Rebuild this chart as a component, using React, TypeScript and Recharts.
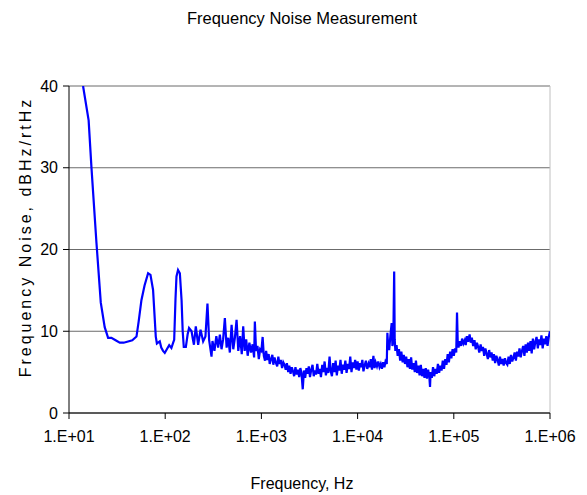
import React from 'react';
import { LineChart, Line, XAxis, YAxis, CartesianGrid, ReferenceLine } from 'recharts';

// [frequency Hz, noise dBHz/rtHz]
const rollOff: [number, number][] = [
  [14, 40], [16, 35.8], [17.1, 30.1], [19.3, 20.8], [21.4, 13.5], [23.5, 10.5], [25.5, 9.2],
  [27.6, 9.2], [30.5, 8.9], [33.7, 8.6], [37, 8.6], [41.1, 8.75], [45.5, 8.9], [50.3, 9.35],
  [53, 11.2], [56.6, 13.8], [61, 15.6], [66.4, 17.1], [70.3, 16.9], [74.8, 15.05], [79.8, 9.35],
  [82, 8.5], [84.3, 8.6], [87.8, 8.75], [91, 8.0], [95, 7.6], [99, 7.35], [104, 7.8], [110, 8.3],
  [116, 7.95], [121, 8.6], [124, 8.95], [128, 14.0], [131, 16.7], [136, 17.5], [142, 17.1],
  [148, 13.8], [152, 10.0], [156, 8.1], [164, 8.1], [171, 9.6], [177, 10.4], [188, 10.0],
  [194, 9.0], [199, 8.35], [208, 10.6], [220, 8.35], [233, 10.2], [248, 8.75], [262, 9.35],
  [275, 13.4], [286, 8.95], [303, 6.9],
];

const spurs: [number, number][] = [
  [310, 8.8], [325, 7.6], [340, 9.4], [355, 8.0], [370, 9.6], [385, 7.8], [400, 9.0], [417, 11.6],
  [435, 8.0], [452, 9.2], [470, 7.4], [490, 10.8], [510, 7.8], [530, 9.2], [552, 11.4], [575, 7.6],
  [600, 9.4], [625, 7.2], [647, 10.6], [670, 7.6], [695, 9.0], [720, 7.0], [750, 8.6], [780, 7.4],
  [810, 8.4], [840, 6.8], [855, 11.2], [880, 7.6], [910, 8.2], [940, 6.6], [970, 7.8],
];

const decade3: [number, number][] = [
  [1000, 7.6], [1030, 9.3], [1060, 7.0], [1090, 6.4], [1120, 7.6], [1150, 6.5], [1190, 7.2],
  [1220, 6.0], [1260, 6.6], [1300, 7.1], [1330, 5.9], [1370, 6.8], [1410, 6.2], [1460, 5.7],
  [1500, 6.9], [1540, 6.0], [1590, 6.5], [1640, 5.5], [1690, 6.2], [1740, 5.9], [1790, 5.3],
  [1840, 6.1], [1900, 5.0], [1950, 5.8], [2010, 4.8], [2070, 5.6], [2130, 5.1], [2190, 4.5],
  [2260, 5.6], [2330, 4.7], [2400, 5.3], [2470, 4.4], [2540, 5.5], [2610, 4.9], [2690, 2.9],
  [2770, 5.2], [2850, 4.3], [2940, 5.5], [3020, 4.8], [3110, 5.7], [3200, 4.4], [3300, 5.3],
  [3400, 5.9], [3500, 4.5], [3600, 5.2], [3700, 4.7], [3810, 6.0], [3930, 4.8], [4040, 5.4],
  [4160, 4.4], [4290, 5.9], [4410, 5.0], [4540, 6.3], [4680, 4.6], [4820, 5.5], [4960, 4.9],
  [5110, 6.9], [5260, 5.1], [5410, 4.5], [5570, 6.1], [5740, 5.0], [5910, 6.4], [6080, 4.6],
  [6260, 5.8], [6450, 5.2], [6640, 6.5], [6840, 4.8], [7040, 5.9], [7250, 5.3], [7460, 6.4],
  [7680, 4.9], [7910, 6.0], [8150, 5.4], [8390, 6.9], [8640, 5.0], [8890, 6.2], [9160, 5.5],
  [9430, 6.5], [9710, 5.3],
];

const decade4: [number, number][] = [
  [10000, 6.3], [10300, 5.2], [10600, 6.1], [10900, 5.6], [11200, 6.5], [11500, 5.1], [11900, 5.9],
  [12200, 6.4], [12600, 5.4], [13000, 6.0], [13300, 5.6], [13700, 6.6], [14100, 5.3], [14600, 7.0],
  [15000, 5.5], [15400, 6.2], [15900, 5.7], [16400, 6.3], [16900, 5.6], [17400, 6.0], [17900, 5.4],
  [18400, 6.2], [19000, 5.6], [19500, 6.3], [20100, 6.0], [20400, 9.8], [20700, 8.6], [21300, 7.7],
  [21900, 9.4], [22600, 11.0], [23000, 8.2], [23500, 8.8], [24000, 17.3], [24300, 9.0], [24700, 7.6],
  [25400, 8.3], [26100, 7.0], [26900, 7.8], [27700, 6.4], [28500, 7.5], [29400, 6.2], [30200, 7.1],
  [31100, 6.0], [32000, 6.9], [33000, 5.6], [34000, 6.6], [35000, 5.4], [36000, 6.8], [37000, 5.3],
  [38100, 6.1], [39300, 5.0], [40400, 6.4], [41600, 4.9], [42900, 5.8], [44100, 4.6], [45400, 5.9],
  [46800, 4.5], [48200, 5.4], [49600, 4.3], [51100, 5.5], [52600, 4.2], [54100, 5.3], [55700, 4.4],
  [56600, 3.2], [57400, 5.0], [59100, 4.3], [60800, 5.6], [62600, 4.5], [64500, 5.4], [66400, 4.8],
  [68400, 6.0], [70400, 4.9], [72500, 5.8], [74600, 5.2], [76800, 6.4], [79100, 5.4], [81500, 6.6],
  [83900, 5.9], [86400, 7.2], [88900, 6.2], [91600, 7.5], [94300, 6.7], [97100, 7.8],
];

const decade5: [number, number][] = [
  [100000, 7.0], [103000, 7.9], [106000, 7.4], [108000, 12.3], [110000, 8.4], [112000, 8.0],
  [115000, 8.8], [119000, 8.2], [122000, 9.1], [126000, 8.5], [130000, 8.9], [133000, 8.3],
  [137000, 9.4], [141000, 8.7], [146000, 9.6], [150000, 8.6], [154000, 9.2], [159000, 8.2],
  [164000, 8.9], [169000, 7.8], [174000, 8.6], [179000, 8.1], [184000, 7.4], [190000, 8.4],
  [195000, 7.6], [201000, 8.1], [207000, 7.0], [213000, 7.9], [219000, 7.3], [226000, 6.6],
  [233000, 7.7], [240000, 6.8], [247000, 7.4], [254000, 6.4], [261000, 7.2], [269000, 6.1],
  [277000, 7.0], [285000, 6.5], [294000, 5.8], [302000, 6.9], [311000, 6.0], [320000, 6.6],
  [330000, 5.8], [340000, 6.7], [350000, 6.1], [360000, 5.9], [371000, 6.9], [382000, 6.0],
  [393000, 7.1], [405000, 6.3], [417000, 6.8], [429000, 7.4], [442000, 6.4], [455000, 7.5],
  [468000, 6.9], [482000, 7.9], [496000, 6.8], [511000, 7.6], [526000, 8.2], [542000, 7.0],
  [558000, 8.4], [574000, 7.4], [591000, 8.6], [609000, 7.6], [627000, 8.8], [645000, 7.3],
  [664000, 9.1], [684000, 7.8], [704000, 8.7], [725000, 9.3], [747000, 7.9], [769000, 9.0],
  [791000, 8.3], [815000, 9.5], [839000, 7.9], [864000, 9.1], [889000, 8.4], [916000, 9.4],
  [943000, 8.2], [971000, 9.3], [1000000, 10.0],
];

const xTicks = [10, 100, 1000, 10000, 100000, 1000000];
const yTicks = [0, 10, 20, 30, 40];

const data = [...rollOff, ...spurs, ...decade3, ...decade4, ...decade5].map(([f, v]) => ({ f, v }));

const font = '"Liberation Sans", Arial, sans-serif';

const fmtExp = (v: number) => '1.E+0' + Math.round(Math.log10(v));

const YLabel = () => (
  <text
    x={25}
    y={237}
    transform="rotate(-90, 25, 237)"
    textAnchor="middle"
    dominantBaseline="central"
    fontFamily={font}
    fontSize={16}
    letterSpacing={3}
    fill="#000"
  >
    Frequency Noise, dBHz/rtHz
  </text>
);

const XLabel = () => (
  <text x={302} y={489} textAnchor="middle" fontFamily={font} fontSize={16} fill="#000">
    Frequency, Hz
  </text>
);

const App: React.FC = () => {
  return (
    <div style={{ position: 'absolute', left: 0, top: 0, width: 587, height: 495, background: '#fff' }}>
      <div
        style={{
          position: 'absolute',
          top: 8,
          left: 0,
          width: 587,
          paddingLeft: 17,
          boxSizing: 'border-box',
          textAlign: 'center',
          fontFamily: font,
          fontSize: 16.5,
          lineHeight: '20px',
        }}
      >
        Frequency Noise Measurement
      </div>
      <LineChart width={587} height={495} data={data} margin={{ top: 86, right: 37, bottom: 0, left: 9 }}>
        <CartesianGrid vertical={false} stroke="#6b6b6b" />
        <XAxis
          dataKey="f"
          type="number"
          scale="log"
          domain={[10, 1000000]}
          ticks={xTicks}
          allowDataOverflow
          tickFormatter={fmtExp}
          height={82}
          tickSize={6}
          tickMargin={12}
          stroke="#000"
          tick={{ fill: '#000', fontSize: 16, fontFamily: font }}
          label={<XLabel />}
        />
        <YAxis
          domain={[0, 40]}
          ticks={yTicks}
          allowDataOverflow
          width={60}
          tickSize={6}
          tickMargin={5}
          stroke="#000"
          tick={{ fill: '#000', fontSize: 16, fontFamily: font }}
          label={<YLabel />}
        />
        <ReferenceLine x={1000000} stroke="#c0c0c0" />
        <Line
          dataKey="v"
          stroke="#0000ff"
          strokeWidth={2.2}
          dot={false}
          isAnimationActive={false}
        />
      </LineChart>
    </div>
  );
};

export default App;
